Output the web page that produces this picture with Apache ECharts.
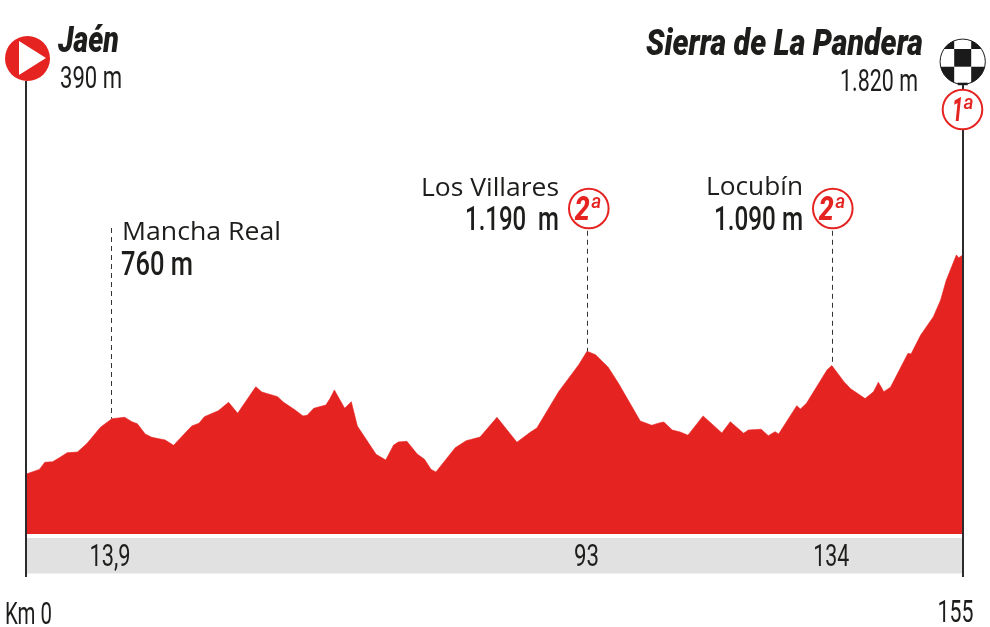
<!DOCTYPE html>
<html><head><meta charset="utf-8">
<style>html,body{margin:0;padding:0;background:#fff}#c{width:990px;height:627px}</style>
<script src="https://cdn.jsdelivr.net/npm/echarts@6/dist/echarts.min.js"></script>
</head><body><div id="c"></div>
<script>
// Profile: distance (km) and altitude (m)
const km = [0,2.3,3.2,4.5,5.6,6.9,8.6,10.2,12.4,14.3,16.4,17.6,18.5,19.8,20.9,23.1,24.5,27.5,28.7,29.6,31.9,33.6,35.1,38.1,39.1,41.7,42.7,44.6,45.9,46.6,47.7,49.7,50.4,51.1,52.8,53.9,54.9,58.0,59.6,60.9,61.7,63.1,64.8,66.0,67.1,67.9,71.1,72.9,75.2,78.0,81.3,83.5,84.6,88.2,91.5,92.9,94.3,96.4,98.1,101.7,103.6,105.0,105.6,107.0,108.3,109.6,112.1,115.2,116.6,118.8,119.6,121.7,122.9,124.0,124.6,127.6,128.2,129.2,132.6,133.4,135.4,136.5,138.9,140.3,141.1,142.0,143.1,146.0,146.5,148.1,150.2,151.4,152.3,154.0,154.4,155];
const altitude = [390,422,468,472,498,531,535,592,697,753,762,733,720,653,631,614,579,705,723,766,805,860,788,962,927,897,860,810,771,775,821,842,886,940,821,864,705,520,483,581,601,605,522,488,422,405,564,609,633,762,599,664,692,929,1104,1193,1171,1089,984,738,710,727,731,679,666,645,771,660,733,658,679,684,642,668,653,838,816,853,1071,1100,995,949,884,929,991,929,958,1180,1175,1299,1419,1528,1654,1822,1804,1820];
const markKm = [14.15, 92.9, 133.4];
const markTopAlt = [1998, 1980, 1980];
const markAlt = [753, 1193, 1100];
const markLabels = ['13,9', '93', '134'];
const endKm = [0, 155];
const endLabels = ['Km 0', '155'];

const RED = '#e52421', INK = '#1d1d1b';
const BODY = 'Roboto', OPEN = '"Open Sans"';
const chart = echarts.init(document.getElementById('c'), null, {renderer:'canvas'});
const yPerPx = 6.53;
const altAt = y => (534 - y) * yPerPx;

chart.setOption({
  animation:false, backgroundColor:'#fff',
  grid:{left:25.5,right:27.6,top:534-3400/yPerPx,bottom:627-(534+300/yPerPx)},
  xAxis:{type:'value',min:0,max:155,show:false},
  yAxis:{type:'value',min:-300,max:3400,show:false},
  series:[{
    type:'line',data:km.map((k,i)=>[k,altitude[i]]),symbol:'none',smooth:false,
    lineStyle:{width:0.6,color:RED},itemStyle:{color:RED},
    areaStyle:{color:RED,opacity:1,origin:0},silent:true,z:2,
    markArea:{silent:true,itemStyle:{color:'#e1e1e1'},
      data:[[{xAxis:0,yAxis:altAt(538)},{xAxis:155,yAxis:altAt(573.5)}]]},
    markLine:{silent:true,symbol:'none',animation:false,label:{show:false},z:5,
      data:[
        [{coord:[0,altAt(81)],lineStyle:{color:'#2b2b2b',width:2,type:'solid'}},{coord:[0,altAt(577)]}],
        [{coord:[155,altAt(84)],lineStyle:{color:'#2b2b2b',width:2,type:'solid'}},{coord:[155,altAt(577)]}],
        ...markKm.map((k,i)=>[{coord:[k,markTopAlt[i]],lineStyle:{color:'#333',width:1,type:[5,4]}},{coord:[k,markAlt[i]]}])
      ]}
  }]
});

const px = k => chart.convertToPixel({xAxisIndex:0},k);
const ctx = document.createElement('canvas').getContext('2d');
// Text squeezed to the width it has in the reference (the original face is condensed)
function txt(text,x,y,font,align,width,fill){
  ctx.font = font;
  const sx = width ? width/ctx.measureText(text).width : 1;
  return {type:'text',x:x,y:y,scaleX:sx,z:20,silent:true,
    style:{text:text,font:font,textAlign:align||'left',textVerticalAlign:'middle',fill:fill||INK}};
}
function cat(x,y,n){
  return [
    {type:'circle',shape:{cx:x,cy:y,r:19.8},z:15,silent:true,style:{fill:'#fff',stroke:RED,lineWidth:2}},
    txt(n,x-(n==='1'?5:6.5),y+3,'italic 800 34px '+BODY,'center',n==='1'?11:15,RED),
    txt('a',x+(n==='1'?6:7.5),y-6,'italic 500 21px '+BODY,'center',10,RED)
  ];
}
function piece(cx,cy,r,corner,a0,a1){
  const pts=[[cx+corner[0],cy+corner[1]]];
  for(let i=0;i<=12;i++){const a=(a0+(a1-a0)*i/12)*Math.PI/180;pts.push([cx+r*Math.cos(a),cy+r*Math.sin(a)]);}
  return {type:'polygon',shape:{points:pts},z:16,silent:true,style:{fill:'#1a1a1a'}};
}
function flag(cx,cy){
  const r=22.6;
  const ang=(x,y)=>Math.atan2(y,x)*180/Math.PI;
  const a=8.5,t=-12.7,b=5;
  const top=Math.sqrt(r*r-a*a), side=Math.sqrt(r*r-t*t), low=Math.sqrt(r*r-b*b);
  return [
    {type:'circle',shape:{cx:cx,cy:cy,r:r},z:15,silent:true,style:{fill:'#fff',stroke:'#1a1a1a',lineWidth:1}},
    {type:'rect',shape:{x:cx-a,y:cy+t,width:2*a,height:b-t},z:16,silent:true,style:{fill:'#1a1a1a'}},
    piece(cx,cy,r,[-a,t],ang(-side,t),ang(-a,-top)),
    piece(cx,cy,r,[a,t],ang(a,-top),ang(side,t)),
    piece(cx,cy,r,[-a,b],ang(-a,top),ang(-low,b)),
    piece(cx,cy,r,[a,b],ang(low,b),ang(a,top)),
    {type:'rect',shape:{x:cx-5,y:cy+21,width:10,height:2.5},z:16,silent:true,style:{fill:'#1a1a1a'}}
  ];
}
const graphics = [
  {type:'circle',shape:{cx:27.5,cy:58.5,r:22.5},z:15,silent:true,style:{fill:RED}},
  {type:'polygon',shape:{points:[[19,41],[46,58],[19,75]]},z:16,silent:true,style:{fill:'#fff'}},
  txt('Jaén',58,43,'italic 900 36px '+BODY,'left',61),
  txt('390 m',60,79.5,'32px '+BODY,'left',62),
  txt('Sierra de La Pandera',923,46,'italic 900 36px '+BODY,'right',277),
  txt('1.820 m',918,83,'32px '+BODY,'right',78),
  ...flag(962.7,61.7),
  ...cat(962.5,109.5,'1'),
  txt('Mancha Real',122,232.5,'26px '+OPEN,'left',159),
  txt('760 m',121,266.5,'500 33px '+BODY,'left',72),
  txt('Los Villares',559,188.5,'26px '+OPEN,'right',138),
  txt('1.190  m',559,222,'500 33px '+BODY,'right',94),
  ...cat(588.8,208.5,'2'),
  txt('Locubín',803,188,'26px '+OPEN,'right',97),
  txt('1.090 m',803,222,'500 33px '+BODY,'right',89),
  ...cat(832.8,208.5,'2'),
  txt(markLabels[0],px(markKm[0])-1,557.5,'32px '+BODY,'center',41),
  txt(markLabels[1],px(markKm[1])-0.5,557.5,'32px '+BODY,'center',25),
  txt(markLabels[2],px(markKm[2])-0.5,557.5,'32px '+BODY,'center',36),
  txt(endLabels[0],px(endKm[0])+3,615.5,'32px '+BODY,'center',47),
  txt(endLabels[1],px(endKm[1])-7,614,'32px '+BODY,'center',36)
];
chart.setOption({graphic:{elements:graphics}});
</script></body></html>
